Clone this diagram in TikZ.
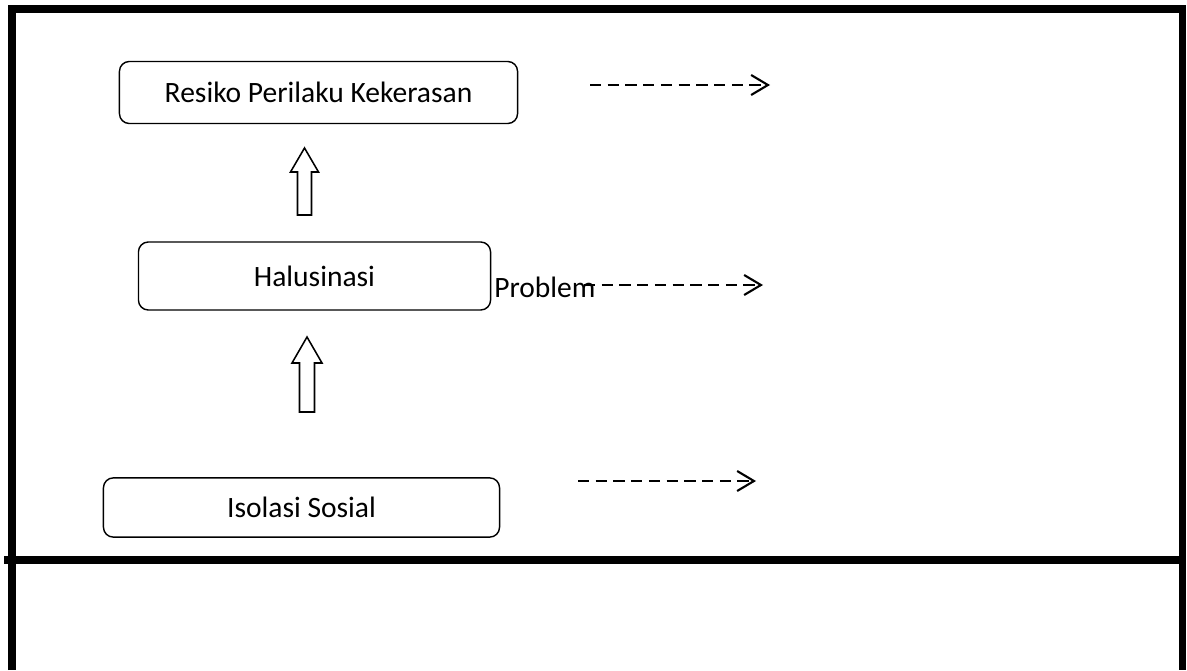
\documentclass[tikz,border=0pt]{standalone}
\usepackage{fontspec}
\setmainfont{Carlito}
\usetikzlibrary{arrows.meta}

\tikzset{
    box/.style={draw, line width=1pt, rounded corners=7pt, fill=white,
        font=\fontsize{21}{25}\selectfont, inner sep=0pt},
    blockline/.style={draw, line width=1.1pt, line join=miter},
    dasharrow/.style={line width=1.5pt, dash pattern=on 8pt off 4.6pt,
        -{Straight Barb[length=4.2mm,width=5mm,line width=1.5pt]}},
    frameline/.style={line width=5pt}
}

\begin{document}
\begin{tikzpicture}[x=0.025cm, y=-0.025cm]
    \useasboundingbox (0,0) rectangle (1187,670);

    % Outer frame
    \draw[frameline] (12,670) -- (12,9) -- (1182,9) -- (1182,670);
    \draw[frameline] (4,560) -- (1182,560);

    % Boxes
    \node[box, minimum width=9.95cm, minimum height=1.55cm] (rpk) at (318.5,92.5) {Resiko Perilaku Kekerasan};
    \node[box, minimum width=8.8cm, minimum height=1.7cm] (hal) at (314.5,276) {Halusinasi};
    \node[box, minimum width=9.9cm, minimum height=1.48cm] (iso) at (301.5,507.5) {Isolasi Sosial};

    % Block arrows upward (tip first)
    \coordinate (up1) at (304.5,148);
    \coordinate (up2) at (307,337);
    \draw[blockline] (up1) -- ++(14,24) -- ++(-7,0) -- ++(0,43) -- ++(-14,0)
        -- ++(0,-43) -- ++(-7,0) -- cycle;
    \draw[blockline] (up2) -- ++(15,26) -- ++(-7.5,0) -- ++(0,49) -- ++(-15,0)
        -- ++(0,-49) -- ++(-7.5,0) -- cycle;

    % Problem label
    \node[anchor=west, font=\fontsize{21}{25}\selectfont, inner sep=0pt] (prob) at (494,287) {Problem};

    % Dashed arrows
    \coordinate (a1) at (590,85);
    \coordinate (b1) at (770,85);
    \coordinate (a2) at (584,285);
    \coordinate (b2) at (763,285);
    \coordinate (a3) at (578,481);
    \coordinate (b3) at (756,481);
    \draw[dasharrow] (a1) -- (b1);
    \draw[dasharrow] (a2) -- (b2);
    \draw[dasharrow] (a3) -- (b3);
\end{tikzpicture}
\end{document}
